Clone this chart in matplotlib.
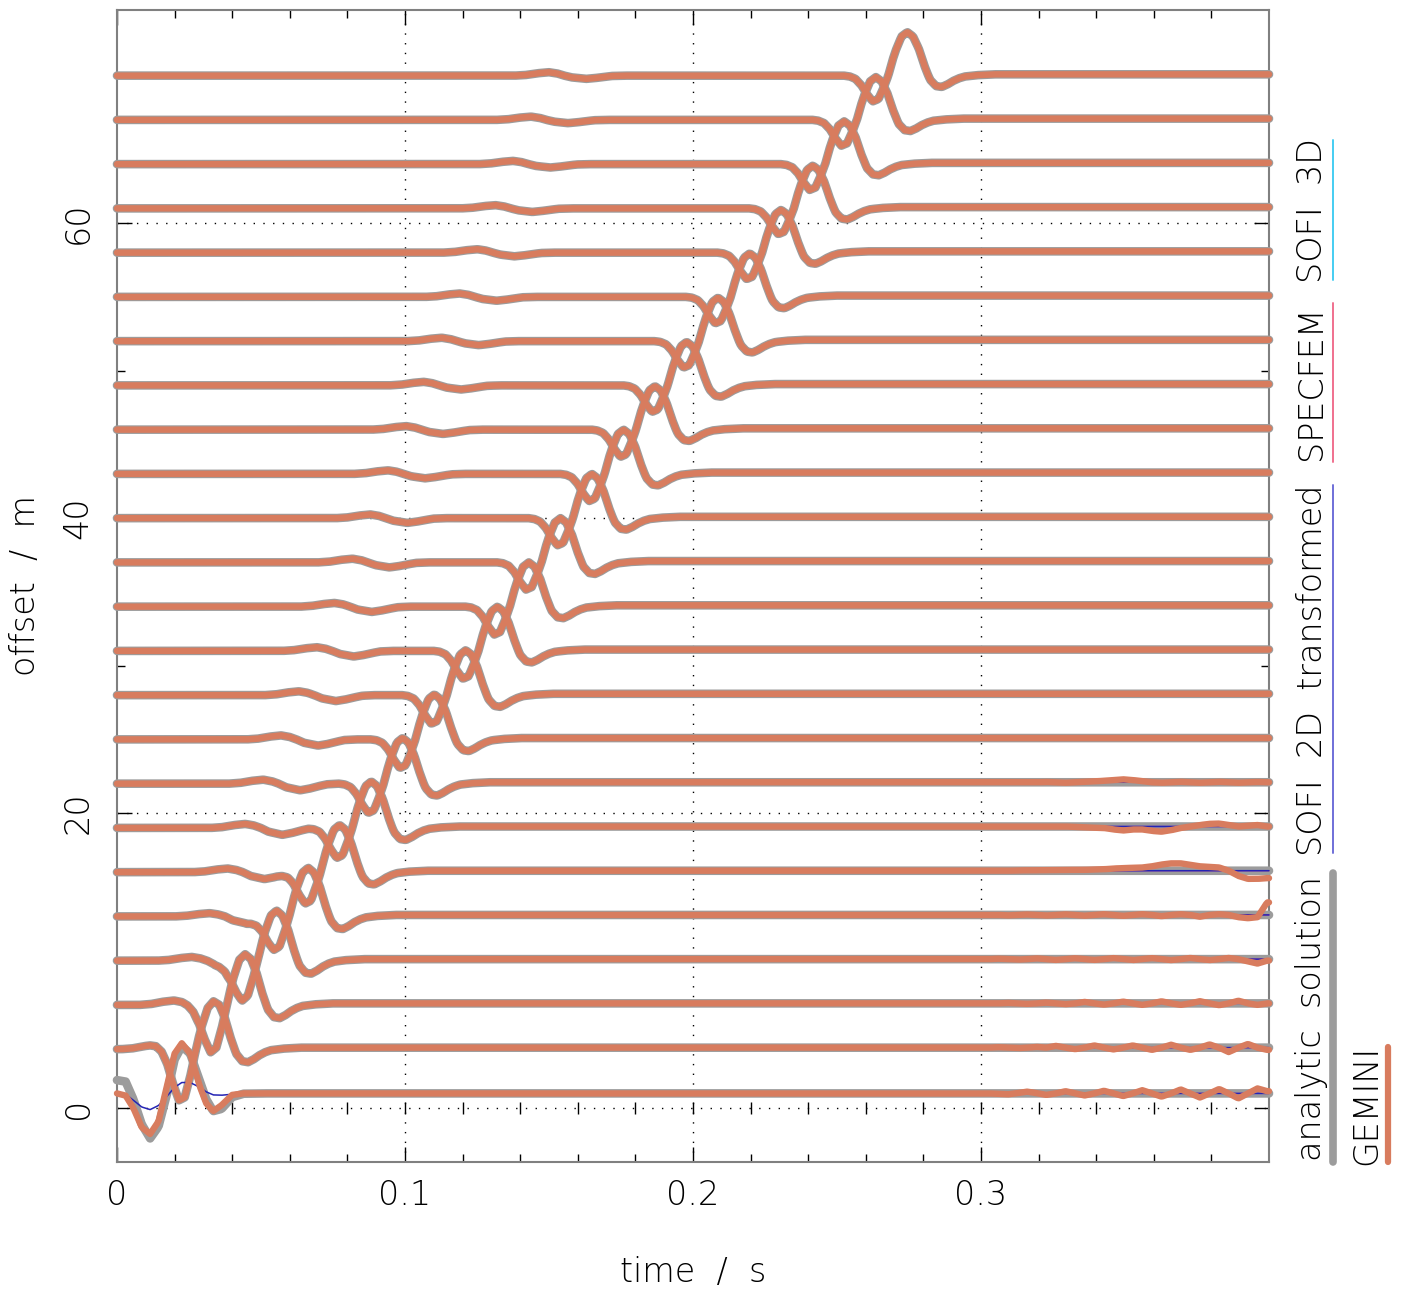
import numpy as np
import matplotlib
matplotlib.use('Agg')
import matplotlib.pyplot as plt
from matplotlib.lines import Line2D

# Seismogramme : 24 traces, offset 1 m a 70 m, 5 codes compares
plt.rcParams['font.family'] = ['DejaVu Sans']
plt.rcParams['font.weight'] = 'light'
plt.rcParams['axes.labelweight'] = 'light'

offsets = [1, 4, 7, 10, 13, 16, 19, 22, 25, 28, 31, 34,
           37, 40, 43, 46, 49, 52, 55, 58, 61, 64, 67, 70]

# onde S (grande) : temps du pic, amplitude du pic, profondeur du creux avant
s_peak_t = [0.0225, 0.0335, 0.0445, 0.0554, 0.0664, 0.0773, 0.0883, 0.0992,
            0.1102, 0.1211, 0.1321, 0.1430, 0.1540, 0.1649, 0.1759, 0.1868,
            0.1978, 0.2087, 0.2197, 0.2306, 0.2416, 0.2525, 0.2635, 0.2744]
s_peak_amp = [3.4, 3.4, 3.45, 3.4, 3.3, 3.2, 3.15, 3.1, 3.05, 3.05, 3.0, 3.0,
              3.0, 3.0, 3.0, 2.95, 2.95, 2.95, 2.95, 2.9, 2.9, 2.9, 2.9, 2.95]
s_pre_amp = [2.75, 3.3, 2.8, 2.5, 2.3, 2.2, 2.1, 2.05, 2.0, 2.0, 1.95, 1.95,
             1.9, 1.9, 1.9, 1.9, 1.85, 1.85, 1.85, 1.85, 1.8, 1.8, 1.8, 1.8]

# onde P (petite) : temps de la bosse, hauteur de la bosse, profondeur du creux
p_t = [0.0074, 0.0136, 0.0198, 0.0260, 0.0322, 0.0384, 0.0446, 0.0508,
       0.0570, 0.0632, 0.0694, 0.0756, 0.0818, 0.0880, 0.0942, 0.1004,
       0.1066, 0.1128, 0.1190, 0.1252, 0.1314, 0.1376, 0.1438, 0.1500]
p_up = [0.3, 0.3, 0.3, 0.25, 0.22, 0.25, 0.27, 0.27, 0.27, 0.26, 0.25, 0.25,
        0.25, 0.25, 0.24, 0.24, 0.24, 0.23, 0.23, 0.23, 0.22, 0.22, 0.22, 0.23]
p_down = [0.5, 0.5, 0.5, 0.5, 0.48, 0.47, 0.47, 0.45, 0.42, 0.4, 0.38, 0.36,
          0.34, 0.32, 0.3, 0.29, 0.28, 0.27, 0.26, 0.25, 0.24, 0.23, 0.22, 0.22]

s_rel = [-0.026, -0.022, -0.020, -0.018, -0.016, -0.014, -0.012, -0.010, -0.008,
         -0.0066, -0.005, -0.004, -0.002, 0.0, 0.002, 0.004, 0.006, 0.0073,
         0.008, 0.010, 0.012, 0.014, 0.016, 0.018, 0.020, 0.024, 0.030]
s_shape = [0.0, 0.0, -0.03, -0.12, -0.35, -0.70, -0.97, -0.88, -0.40,
           0.0, 0.38, 0.58, 0.90, 1.0, 0.90, 0.62, 0.22, 0.0,
           -0.10, -0.24, -0.26, -0.20, -0.12, -0.06, -0.02, 0.01, 0.03]

# forme d'onde P (bosse = 1, creux = -1)
p_rel = [-0.012, -0.008, -0.004, 0.0, 0.003, 0.0053, 0.008, 0.0128, 0.016,
         0.019, 0.022, 0.026]
p_shape = [0.0, 0.2, 0.7, 1.0, 0.6, 0.0, -0.55, -1.0, -0.75, -0.4, -0.1, 0.0]

# trace a 1 m, debut (champ proche) pour chaque code
t1_t = [0.0, 0.003, 0.0057, 0.0086, 0.0115, 0.0144, 0.0173, 0.020, 0.0225,
        0.0254, 0.0288, 0.031, 0.0334, 0.0363, 0.040, 0.044, 0.050]
t1_analytic = [1.9, 1.8, 0.6, -1.1, -2.05, -1.25, 0.9, 3.3, 4.2, 3.7, 1.8,
               0.6, -0.2, -0.05, 0.75, 0.98, 1.0]
t1_gemini = [1.0, 0.85, 0.0, -1.3, -1.75, -0.9, 1.45, 3.7, 4.4, 3.7, 1.45,
             0.32, -0.2, 0.2, 0.9, 1.0, 1.0]
t1_sofi2d = [1.05, 0.95, 0.55, 0.1, -0.07, 0.2, 0.8, 1.4, 1.72, 1.72, 1.4,
             1.1, 0.9, 0.88, 0.95, 1.0, 1.0]

# bruit tardif de GEMINI sur les traces proches (offsets 1..22)
late_t0, late_dt = 0.3027, 0.003333
late_noise = {
    1: [0.0, -0.03, -0.06, 0.02, 0.12, 0.02, -0.10, 0.0, 0.15, 0.0, -0.14, 0.0,
        0.18, 0.0, -0.18, 0.0, 0.22, 0.0, -0.22, 0.0, 0.27, 0.0, -0.28, 0.0,
        0.30, 0.0, -0.34, 0.0, 0.34, 0.15],
    4: [0.0, 0.03, 0.0, -0.03, 0.0, 0.05, 0.0, 0.12, 0.0, -0.10, 0.0, 0.15,
        0.0, -0.12, 0.0, 0.15, 0.0, -0.15, 0.0, 0.20, 0.0, -0.15, 0.0, 0.22,
        0.0, -0.30, 0.0, 0.25, 0.0, -0.15],
    7: [0.0, 0.0, 0.03, 0.0, -0.03, 0.0, 0.05, 0.0, -0.05, 0.0, 0.10, 0.0,
        -0.08, 0.0, 0.12, 0.0, -0.10, 0.0, 0.14, 0.0, -0.10, 0.0, 0.15, 0.0,
        -0.12, 0.0, 0.18, 0.0, -0.10, 0.0],
    10: [0.0, 0.03, 0.0, -0.03, 0.0, 0.05, 0.0, -0.05, 0.0, 0.06, 0.0, -0.05,
         0.0, 0.07, 0.0, -0.06, 0.0, 0.07, 0.0, -0.06, 0.0, 0.08, 0.0, -0.06,
         0.0, 0.08, 0.0, -0.15, -0.3, -0.1],
    13: [0.0, 0.0, -0.03, 0.0, 0.03, 0.0, -0.04, 0.0, 0.04, 0.0, -0.05, 0.0,
         0.05, 0.0, -0.06, 0.0, 0.05, 0.0, -0.08, 0.0, 0.05, 0.0, -0.12, 0.0,
         0.05, 0.0, -0.15, -0.22, -0.15, 0.85],
    16: [0.0, 0.0, 0.0, 0.02, 0.03, 0.03, 0.04, 0.05, 0.05, 0.06, 0.06, 0.08,
         0.1, 0.15, 0.18, 0.2, 0.22, 0.3, 0.42, 0.5, 0.5, 0.4, 0.3, 0.26,
         0.22, 0.0, -0.35, -0.55, -0.55, -0.5],
    19: [0.0, 0.0, 0.0, 0.0, 0.0, 0.0, 0.0, 0.0, 0.0, -0.03, -0.06, -0.08,
         -0.1, -0.2, -0.27, -0.2, -0.2, -0.3, -0.35, -0.25, -0.1, 0.0, 0.1, 0.18,
         0.2, 0.1, 0.0, 0.05, 0.1, 0.0],
    22: [0.0, 0.0, 0.0, 0.0, 0.0, 0.0, 0.02, 0.0, -0.03, 0.0, 0.03, 0.06,
         0.1, 0.15, 0.2, 0.15, 0.08, 0.0, -0.03, 0.0, 0.03, 0.0, -0.03, 0.0,
         0.03, 0.0, -0.03, 0.0, 0.02, 0.0],
}

# petites differences d'amplitude entre codes
method_gain = {'analytic': 1.0, 'sofi3d': 1.035, 'specfem': 1.02,
               'sofi2d': 1.025, 'gemini': 1.0}

xticks = [0, 0.1, 0.2, 0.3]
xtick_labels = ['0', '0.1', '0.2', '0.3']
yticks = [0, 20, 40, 60]

c_gemini = '#d87c5e'
c_analytic = '#9c9c9c'
c_sofi3d = '#45cdf2'
c_specfem = '#ea3f72'
c_sofi2d = '#2424b4'

t = np.arange(0.0, 0.4 + 1e-9, 0.0005)
late_t = late_t0 + late_dt * np.arange(30)


def make_trace(i, method):
    off = offsets[i]
    g = method_gain[method]
    rel = t - s_peak_t[i]
    w = np.interp(rel, s_rel, s_shape, left=0.0, right=s_shape[-1])
    s = np.where(rel < -0.0066, w * s_pre_amp[i], w * s_peak_amp[i])
    prel = t - p_t[i]
    pw = np.interp(prel, p_rel, p_shape, left=0.0, right=0.0)
    p = np.where(prel < 0.0053, pw * p_up[i], pw * p_down[i])
    y = off + g * (s + p)
    if off == 1:
        early = t <= t1_t[-1]
        if method == 'analytic':
            src = t1_analytic
        elif method == 'sofi2d':
            src = t1_sofi2d
        else:
            src = t1_gemini
        y[early] = 1.0 + g * (np.interp(t[early], t1_t, src) - 1.0)
        y[~early] = 1.0
    if method == 'gemini' and off in late_noise:
        y = y + np.interp(t, late_t, late_noise[off], left=0.0, right=late_noise[off][-1])
    return y


fig = plt.figure(figsize=(14.04, 12.90), dpi=100)
ax = fig.add_axes([117 / 1404, 1 - 1162 / 1290, (1269 - 117) / 1404, (1162 - 10) / 1290])

styles = [('analytic', c_analytic, 6.2),
          ('sofi3d', c_sofi3d, 1.1),
          ('specfem', c_specfem, 1.1),
          ('sofi2d', c_sofi2d, 1.1),
          ('gemini', c_gemini, 4.6)]
z = 3
for method, col, lw in styles:
    for i in range(len(offsets)):
        ax.plot(t, make_trace(i, method), color=col, lw=lw, solid_capstyle='round',
                solid_joinstyle='round', clip_on=False, zorder=z)
    z += 1

ax.set_xlim(0, 0.4)
ax.set_ylim(-3.65, 74.45)

# grille pointillee
for xv in xticks[1:]:
    ax.axvline(xv, color='black', lw=1.0, ls=(0, (1, 6)), zorder=1)
for yv in yticks:
    ax.axhline(yv, color='black', lw=1.0, ls=(0, (1, 6)), zorder=1)
# axe du zero avec graduations
ax.plot(np.arange(0.02, 0.4, 0.02), np.zeros(19), ls='', marker='|', ms=9,
        mew=1.0, color='black', zorder=2)

ax.set_xticks(xticks)
ax.set_xticklabels(xtick_labels)
ax.set_xticks(np.arange(0.0, 0.4, 0.02), minor=True)
ax.set_yticks(yticks)
ax.set_yticklabels([str(v) for v in yticks], rotation=90, va='center')
ax.set_yticks(np.arange(0, 75, 10), minor=True)
ax.tick_params(which='both', direction='in', top=True, right=True, color='black')
ax.tick_params(which='major', length=11, width=1.0, labelsize=24, pad=12)
ax.tick_params(which='minor', length=6, width=1.0)
ax.tick_params(axis='y', which='major', pad=16)
for sp in ax.spines.values():
    sp.set_color('#808080')
    sp.set_linewidth(1.5)

ax.set_xlabel('time  /  s', fontsize=24, labelpad=32)
ax.set_ylabel('offset  /  m', fontsize=24, labelpad=14)

# legende verticale a droite
leg = [('SOFI  3D', 0.8364, c_sofi3d, 1.4, 1 - 140 / 1290, 1 - 280 / 1290),
       ('SPECFEM', 0.7031, '#f0708e', 1.4, 1 - 303 / 1290, 1 - 462 / 1290),
       ('SOFI  2D  transformed', 0.4806, '#6f6fd8', 1.4, 1 - 485 / 1290, 1 - 853 / 1290),
       ('analytic  solution', 0.2101, c_analytic, 5.5, 1 - 873 / 1290, 1 - 1162 / 1290)]
for label, yc, col, lw, y0, y1 in leg:
    fig.text(1312 / 1404, yc, label, rotation=90, ha='center', va='center', fontsize=24)
    fig.add_artist(Line2D([1333 / 1404, 1333 / 1404], [y0, y1], color=col, lw=lw,
                          solid_capstyle='round'))
fig.text(1367 / 1404, 0.1434, 'GEMINI', rotation=90, ha='center', va='center', fontsize=24)
fig.add_artist(Line2D([1388 / 1404, 1388 / 1404], [1 - 1047 / 1290, 1 - 1162 / 1290],
                      color=c_gemini, lw=4.5, solid_capstyle='round'))

fig.savefig('out.png', dpi=100)
